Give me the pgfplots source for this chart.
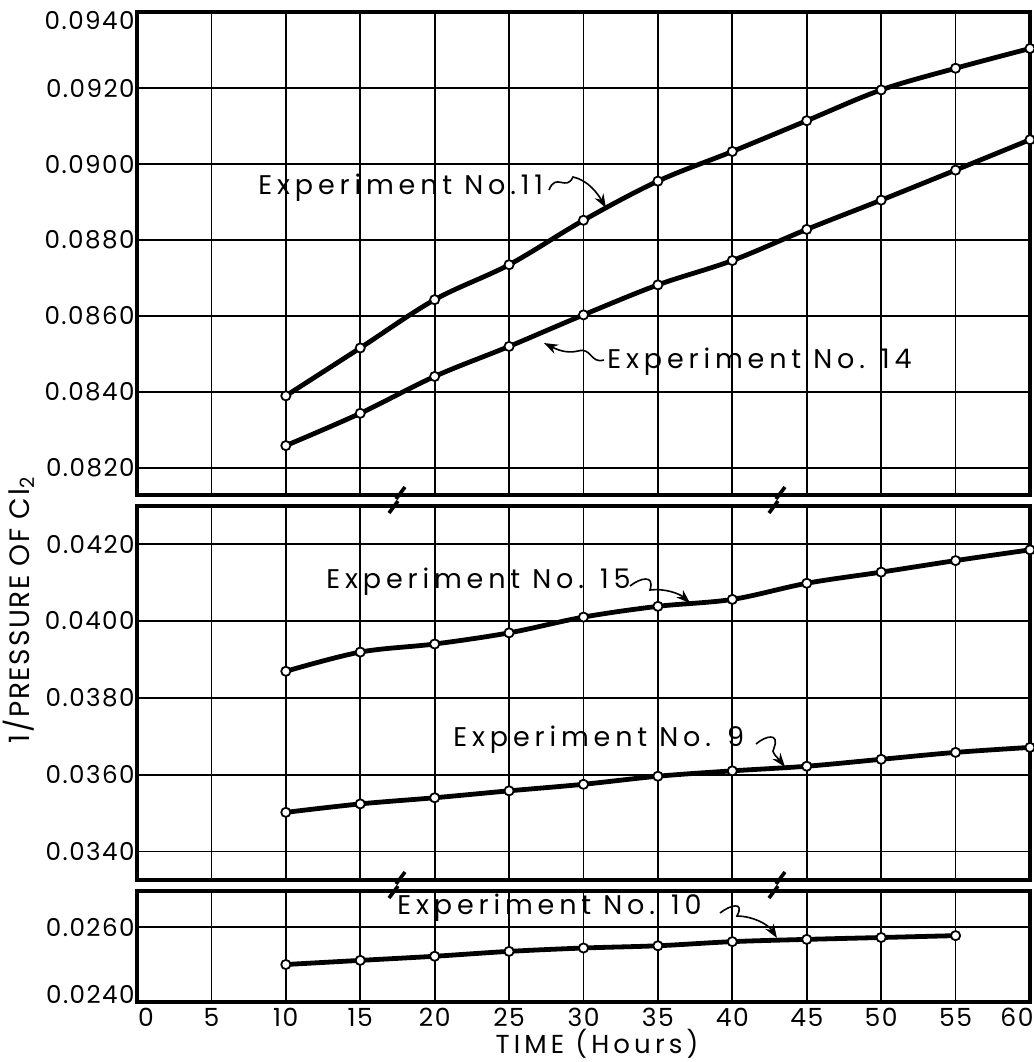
\documentclass[border=0pt]{standalone}
\usepackage{fontspec}
\setmainfont{Poppins}[LetterSpace=6]
\newfontfamily\hand{Poppins}[LetterSpace=18]
\newfontfamily\wide{Poppins}[LetterSpace=16]
\usepackage{pgfplots}
\usepackage{pgfplotstable}
\pgfplotsset{compat=1.18}
\usetikzlibrary{arrows.meta}

% values (hours, 1/p)
\pgfplotstableread{
t y
10 0.08390
15 0.08516
20 0.08643
25 0.08735
30 0.08852
35 0.08955
40 0.09033
45 0.09114
50 0.09195
55 0.09252
60 0.09304
}\expeleven
\pgfplotstableread{
t y
10 0.08259
15 0.08344
20 0.08441
25 0.08520
30 0.08603
35 0.08682
40 0.08746
45 0.08828
50 0.08905
55 0.08984
60 0.09064
}\expfourteen
\pgfplotstableread{
t y
10 0.03869
15 0.03919
20 0.03940
25 0.03969
30 0.04010
35 0.04038
40 0.04056
45 0.04098
50 0.04127
55 0.04157
60 0.04185
}\expfifteen
\pgfplotstableread{
t y
10 0.03502
15 0.03524
20 0.03540
25 0.03558
30 0.03575
35 0.03596
40 0.03610
45 0.03622
50 0.03640
55 0.03658
60 0.03671
}\expnine
\pgfplotstableread{
t y
10 0.02500
15 0.02511
20 0.02522
25 0.02535
30 0.02544
35 0.02550
40 0.02561
45 0.02567
50 0.02572
55 0.02577
}\expten

\pgfplotsset{
  panel/.style={
    scale only axis, width=446.5pt, anchor=north west,
    xmin=0, xmax=60, xtick={0,5,...,60}, xticklabels={},
    scaled y ticks=false,
    grid=major, major grid style={black, line width=0.9pt},
    axis line style={line width=1.8pt},
    major tick length=0pt,
    /pgf/number format/assume math mode=true,
    yticklabel style={font=\fontsize{12.3}{12.3}\selectfont, inner xsep=1pt},
  },
  series/.style={black, line width=2.4pt, smooth, tension=0.55,
    mark=*, mark size=2.3pt,
    mark options={fill=white, draw=black, line width=0.9pt, solid}},
}

\begin{document}
\begin{tikzpicture}
\useasboundingbox (0,0) rectangle (517pt,-531pt);

\begin{axis}[panel, at={(68.5pt,-6pt)}, height=241.5pt,
  ymin=0.08129, ymax=0.0940,
  ytick={0.082,0.084,0.086,0.088,0.090,0.092,0.094},
  yticklabels={0.0820,0.0840,0.0860,0.0880,0.0900,0.0920,
    \raisebox{-4.5pt}[\height][\depth]{0.0940}}]
\addplot[series] table {\expeleven};
\addplot[series] table {\expfourteen};
\end{axis}

\begin{axis}[panel, at={(68.5pt,-253pt)}, height=187pt,
  ymin=0.03326, ymax=0.04299,
  ytick={0.034,0.036,0.038,0.040,0.042},
  yticklabels={0.0340,0.0360,0.0380,0.0400,0.0420}]
\addplot[series] table {\expfifteen};
\addplot[series] table {\expnine};
\end{axis}

\begin{axis}[panel, at={(68.5pt,-445.5pt)}, height=55.5pt,
  ymin=0.0240, ymax=0.02696,
  ytick={0.024,0.026},
  yticklabels={\raisebox{3.5pt}[\height][\depth]{0.0240},0.0260},
  xticklabels={\hspace*{9pt}0,5,10,15,20,25,30,35,40,45,50,55,60\hspace*{13pt}},
  xticklabel style={font=\fontsize{12.5}{12.5}\selectfont, inner sep=1pt, yshift=-2pt}]
\addplot[series] table {\expten};
\end{axis}

\begin{scope}[x=0.5pt, y=-0.5pt]
  % axis titles
  \node[font=\wide\fontsize{13}{13}\selectfont, inner sep=1pt] at (597,1044) {TIME (Hours)};
  \node[font=\fontsize{14}{14}\selectfont, rotate=90] at (19,610)
    {1/PRESSURE OF Cl\textsubscript{2}};

  % break marks between panels
  \foreach \bx/\by in {397/500, 777/500, 397/885, 777/885} {
    \draw[line width=1.8pt] (\bx-8,\by+13) -- (\bx+1,\by+1);
    \draw[line width=1.8pt] (\bx-1,\by-1) -- (\bx+8,\by-13);
  }

  % labels with their arrows
  \begin{scope}[font=\hand\fontsize{13.5}{13.5}\selectfont]
  \node[anchor=west, inner sep=0pt] at (258,188) {Experiment No.11};
  \draw[-{Stealth[length=7pt,width=5pt]}, line width=0.8pt]
    (549,190) .. controls (556,172) and (566,192) .. (573,177)
    .. controls (588,180) and (598,194) .. (606,208);

  \node[anchor=west, inner sep=0pt] at (607,362) {Experiment No. 14};
  \draw[-{Stealth[length=7pt,width=5pt]}, line width=0.8pt]
    (604,360) .. controls (590,364) and (592,347) .. (578,351)
    .. controls (566,354) and (556,349) .. (544,343);

  \node[anchor=west, inner sep=0pt] at (326,582) {Experiment No. 15};
  \draw[-{Stealth[length=7pt,width=5pt]}, line width=0.8pt]
    (630,586) .. controls (640,578) and (655,574) .. (650,590)
    .. controls (665,588) and (680,594) .. (690,603);

  \node[anchor=west, inner sep=0pt] at (453,740) {Experiment No. 9};
  \draw[-{Stealth[length=7pt,width=5pt]}, line width=0.8pt]
    (756,744) .. controls (765,736) and (780,732) .. (774,748)
    .. controls (770,752) and (778,758) .. (785,767);

  \node[anchor=west, inner sep=0pt] at (397,908) {Experiment No. 10};
  \draw[-{Stealth[length=7pt,width=5pt]}, line width=0.8pt]
    (720,913) .. controls (730,905) and (745,901) .. (737,916)
    .. controls (752,916) and (768,924) .. (777,938);
  \end{scope}
\end{scope}
\end{tikzpicture}
\end{document}
